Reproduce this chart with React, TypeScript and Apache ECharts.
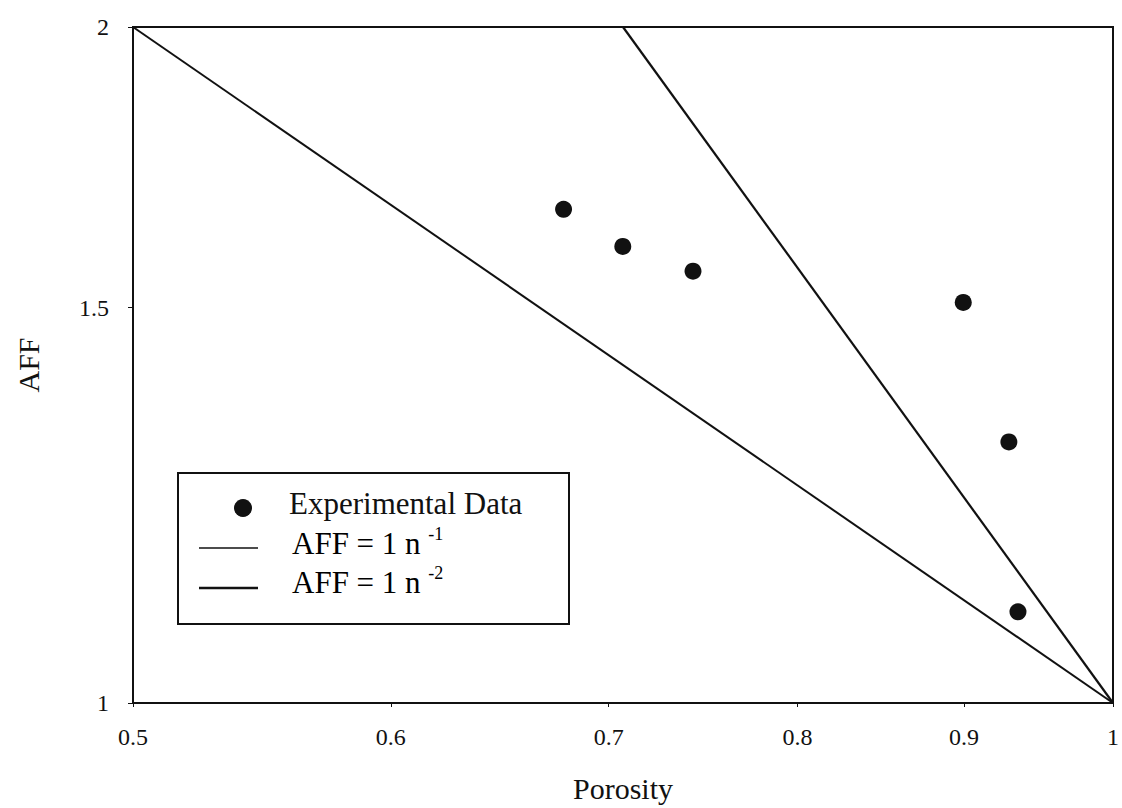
import React, { useEffect, useRef } from "react";
import * as echarts from "echarts";

// Tick values
const porosityTicks = [0.5, 0.6, 0.7, 0.8, 0.9, 1];
const affTicks = [1, 1.5, 2];

const expPorosity = [0.678, 0.707, 0.743, 0.8995, 0.929, 0.935];
const expAFF = [1.659, 1.597, 1.557, 1.508, 1.307, 1.098];

// Model lines (straight on log-log axes), end points
const inv1Porosity = [0.5, 1];
const inv1AFF = [2, 1];
const inv2Porosity = [0.7071, 1];
const inv2AFF = [2, 1];

const FONT = "'Liberation Serif', 'Times New Roman', serif";
const INK = "#111111";

export default function App() {
  const ref = useRef<HTMLDivElement>(null);

  useEffect(() => {
    if (!ref.current) return;
    const chart = echarts.init(ref.current, undefined, { renderer: "svg" });
    const fmt = (v: number) => String(Math.round(v * 100) / 100);
    const legendRich = {
      b: { fontFamily: FONT, fontSize: 31, color: INK },
      s: { fontFamily: FONT, fontSize: 18, color: INK, verticalAlign: "top", lineHeight: 36 },
    };
    chart.setOption({
      animation: false,
      backgroundColor: "#ffffff",
      grid: {
        left: 133,
        right: 4,
        top: 27,
        bottom: 105,
        show: true,
        borderColor: INK,
        borderWidth: 2,
      },
      xAxis: {
        type: "log",
        min: 0.5,
        max: 1,
        name: "Porosity",
        nameLocation: "middle",
        nameGap: 70,
        nameTextStyle: { fontFamily: FONT, fontSize: 30, color: INK },
        axisLine: { show: true, lineStyle: { color: INK, width: 2 } },
        axisTick: { show: true, length: 4, lineStyle: { color: INK }, customValues: porosityTicks },
        axisLabel: {
          customValues: porosityTicks,
          formatter: fmt,
          fontFamily: FONT,
          fontSize: 24,
          color: INK,
          margin: 22,
        },
        splitLine: { show: false },
        minorTick: { show: false },
      },
      yAxis: {
        type: "log",
        min: 1,
        max: 2,
        name: "AFF",
        nameLocation: "middle",
        nameGap: 90,
        nameRotate: 90,
        nameTextStyle: { fontFamily: FONT, fontSize: 30, color: INK },
        axisLine: { show: true, lineStyle: { color: INK, width: 2 } },
        axisTick: { show: true, length: 5, lineStyle: { color: INK }, customValues: affTicks },
        axisLabel: {
          customValues: affTicks,
          formatter: fmt,
          fontFamily: FONT,
          fontSize: 24,
          color: INK,
          margin: 24,
        },
        splitLine: { show: false },
      },
      series: [
        {
          name: "AFF = 1 n^-1",
          type: "line",
          data: inv1Porosity.map((x, i) => [x, inv1AFF[i]]),
          showSymbol: false,
          symbol: "none",
          lineStyle: { color: INK, width: 2 },
        },
        {
          name: "AFF = 1 n^-2",
          type: "line",
          data: inv2Porosity.map((x, i) => [x, inv2AFF[i]]),
          showSymbol: false,
          symbol: "none",
          lineStyle: { color: INK, width: 2.2 },
        },
        {
          name: "Experimental Data",
          type: "scatter",
          data: expPorosity.map((x, i) => [x, expAFF[i]]),
          symbol: "circle",
          symbolSize: 17,
          itemStyle: { color: INK, opacity: 1 },
        },
      ],
      graphic: [
        {
          type: "group",
          left: 177,
          top: 472,
          children: [
            {
              type: "rect",
              shape: { x: 0, y: 0, width: 391, height: 151 },
              style: { fill: "#ffffff", stroke: INK, lineWidth: 2 },
            },
            {
              type: "circle",
              shape: { cx: 65, cy: 35, r: 9 },
              style: { fill: INK },
            },
            {
              type: "text",
              x: 111,
              y: 30,
              style: {
                text: "Experimental Data",
                fontFamily: FONT,
                fontSize: 31,
                fill: INK,
                verticalAlign: "middle",
              },
            },
            {
              type: "line",
              shape: { x1: 21, y1: 75, x2: 80, y2: 75 },
              style: { stroke: INK, lineWidth: 1.4 },
            },
            {
              type: "text",
              x: 114,
              y: 52,
              style: {
                text: "{b|AFF = 1 n }{s|-1}",
                rich: legendRich,
                verticalAlign: "top",
              },
            },
            {
              type: "line",
              shape: { x1: 21, y1: 115, x2: 80, y2: 115 },
              style: { stroke: INK, lineWidth: 2.4 },
            },
            {
              type: "text",
              x: 114,
              y: 91,
              style: {
                text: "{b|AFF = 1 n }{s|-2}",
                rich: legendRich,
                verticalAlign: "top",
              },
            },
          ],
        },
      ],
    });
    return () => chart.dispose();
  }, []);

  return (
    <div
      ref={ref}
      style={{ position: "fixed", left: 0, top: 0, width: 1122, height: 808, background: "#fff" }}
    />
  );
}
